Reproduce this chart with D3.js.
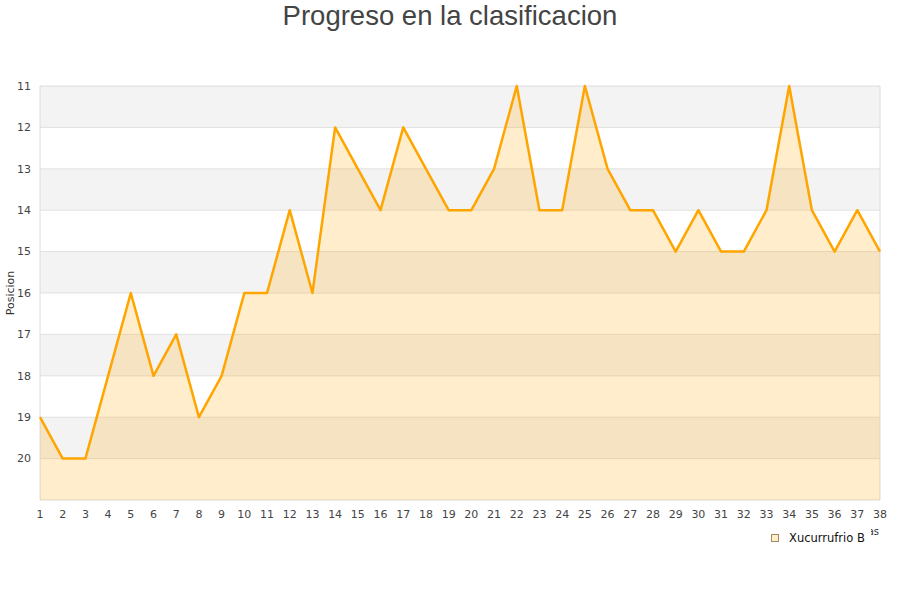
<!DOCTYPE html>
<html>
<body style="margin: 0; background: #fff">
  <script src="https://d3js.org/d3.v7.min.js"></script>

  <script>
    const TITLE = "Progreso en la clasificacion";
    const SERIES_NAME = "Xucurrufrio B";
    const X_TITLE = "Jornadas";
    const Y_TITLE = "Posicion";
    const jornadas = d3.range(1, 39);
    const posiciones = [19, 20, 20, 18, 16, 18, 17, 19, 18, 16,
                        16, 14, 16, 12, 13, 14, 12, 13, 14, 14,
                        13, 11, 14, 14, 11, 13, 14, 14, 15, 14,
                        15, 15, 14, 11, 14, 15, 14, 15];
    const yTicks = [11, 12, 13, 14, 15, 16, 17, 18, 19, 20];

    const start = () => {
      const width = 900;
      const height = 600;
      const margin = {top: 86, right: 20, bottom: 100, left: 40};

      const svg = d3.select("body").append("svg")
        .attr("width", width)
        .attr("height", height)
        .style("font-family", "'DejaVu Sans', sans-serif");

      const x = d3.scaleLinear()
        .domain([1, 38])
        .range([margin.left, width - margin.right]);

      const y = d3.scaleLinear()
        .domain([11, 21])
        .range([margin.top, height - margin.bottom]);

      // alternating bands
      svg.append("g").selectAll("rect")
        .data(d3.range(11, 21))
        .enter()
        .append("rect")
        .attr("x", x(1))
        .attr("y", (d) => y(d))
        .attr("width", x(38) - x(1))
        .attr("height", (d) => y(d + 1) - y(d))
        .style("fill", (d) => (d % 2 === 1 ? "#f3f3f3" : "#ffffff"));

      // grid lines
      svg.append("g").selectAll("line")
        .data(yTicks.slice(1))
        .enter()
        .append("line")
        .attr("x1", x(1))
        .attr("x2", x(38))
        .attr("y1", (d) => y(d))
        .attr("y2", (d) => y(d))
        .style("stroke", "#e0e0e0")
        .style("stroke-width", 1);

      // frame
      svg.append("path")
        .attr("d", `M${x(1)},${y(21)}V${y(11)}H${x(38)}V${y(21)}Z`)
        .style("fill", "none")
        .style("stroke", "#dcdcdc")
        .style("stroke-width", 1);

      const data = jornadas.map((j, i) => ({j: j, p: posiciones[i]}));

      const area = d3.area()
        .x((d) => x(d.j))
        .y0(y(21))
        .y1((d) => y(d.p));

      const line = d3.line()
        .x((d) => x(d.j))
        .y((d) => y(d.p));

      svg.append("path")
        .datum(data)
        .attr("d", area)
        .style("fill", "rgba(255,165,0,0.2)");

      svg.append("path")
        .datum(data)
        .attr("d", line)
        .style("fill", "none")
        .style("stroke", "#ffa500")
        .style("stroke-width", 2.5)
        .style("stroke-linejoin", "round");

      // y axis labels
      svg.append("g").selectAll("text")
        .data(yTicks)
        .enter()
        .append("text")
        .attr("x", 31)
        .attr("y", (d) => y(d))
        .attr("dy", "0.35em")
        .attr("text-anchor", "end")
        .style("font-size", "11px")
        .style("fill", "#444")
        .text((d) => d);

      // x axis labels
      svg.append("g").selectAll("text")
        .data(jornadas)
        .enter()
        .append("text")
        .attr("x", (d) => x(d))
        .attr("y", 518)
        .attr("text-anchor", "middle")
        .style("font-size", "11px")
        .style("fill", "#444")
        .text((d) => d);

      // axis titles
      svg.append("text")
        .attr("transform", `translate(14,${(y(11) + y(21)) / 2}) rotate(-90)`)
        .attr("text-anchor", "middle")
        .style("font-size", "11px")
        .style("fill", "#333")
        .text(Y_TITLE);

      svg.append("text")
        .attr("x", 879)
        .attr("y", 535)
        .attr("text-anchor", "end")
        .style("font-size", "10px")
        .style("fill", "#333")
        .text(X_TITLE);

      svg.append("text")
        .attr("x", width / 2)
        .attr("y", 25)
        .attr("text-anchor", "middle")
        .style("font-family", "'Liberation Sans', Arial, sans-serif")
        .style("font-size", "27.5px")
        .style("fill", "#444")
        .text(TITLE);

      // legend (sits over most of the x title, as in the original)
      const legend = svg.append("g");
      legend.append("rect")
        .attr("x", 764)
        .attr("y", 527)
        .attr("width", 107)
        .attr("height", 20)
        .style("fill", "#fff");
      legend.append("rect")
        .attr("x", 771.5)
        .attr("y", 534.5)
        .attr("width", 7)
        .attr("height", 7)
        .style("fill", "#ffedcc")
        .style("stroke", "#a08a6a")
        .style("stroke-width", 1);
      legend.append("text")
        .attr("x", 789)
        .attr("y", 541.5)
        .style("font-size", "11.5px")
        .style("fill", "#111")
        .text(SERIES_NAME);
    };

    document.addEventListener("DOMContentLoaded", () => {
      start();
    }, false);
  </script>
</body>
</html>
